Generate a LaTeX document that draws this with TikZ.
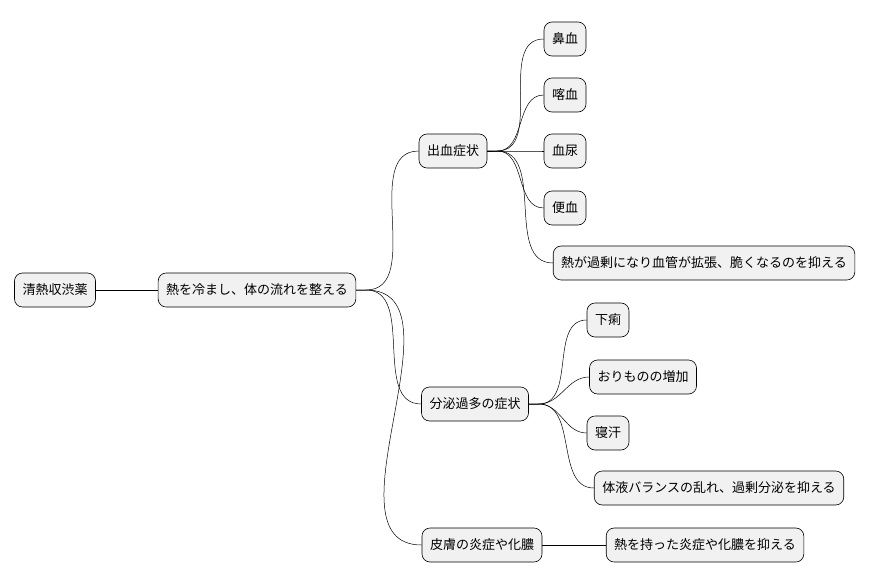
\documentclass[tikz,border=0pt]{standalone}
\usepackage{fontspec}
\setmainfont{Noto Sans CJK JP}
\usetikzlibrary{positioning}
\definecolor{boxfill}{HTML}{F1F1F1}

\tikzset{
    topic/.style={draw, rounded corners=8pt, fill=boxfill, minimum height=34pt,
        inner xsep=8pt, font=\fontsize{13}{15}\selectfont, line width=0.6pt},
    branch/.style={line width=0.5pt}
}

\begin{document}
\begin{tikzpicture}[x=1pt, y=-1pt]
\useasboundingbox (0,0) rectangle (880,583);

\node[topic] (root) at (55,290) {清熱収渋薬};
\node[topic] (heat) at (257,290) {熱を冷まし、体の流れを整える};

\node[topic] (bleed) at (453,151) {出血症状};
\node[topic] (secr) at (475,404) {分泌過多の症状};
\node[topic] (skin) at (482,545) {皮膚の炎症や化膿};

\node[topic] (b1) at (565,39) {鼻血};
\node[topic] (b2) at (565,95) {喀血};
\node[topic] (b3) at (565,151) {血尿};
\node[topic] (b4) at (565,208) {便血};
\node[topic] (b5) at (704,263) {熱が過剰になり血管が拡張、脆くなるのを抑える};

\node[topic] (s1) at (608,320) {下痢};
\node[topic] (s2) at (643,377) {おりものの増加};
\node[topic] (s3) at (608,433) {寝汗};
\node[topic] (s4) at (719,488) {体液バランスの乱れ、過剰分泌を抑える};

\node[topic] (k1) at (705,545) {熱を持った炎症や化膿を抑える};

\draw[branch] (root) -- (heat);
\draw[branch] (skin) -- (k1);

\foreach \p/\c in {heat/bleed, heat/secr, heat/skin,
    bleed/b1, bleed/b2, bleed/b3, bleed/b4, bleed/b5,
    secr/s1, secr/s2, secr/s3, secr/s4}
    \draw[branch] (\p.east) -- ++(10,0) to[out=0, in=180] (\c.west);

\end{tikzpicture}
\end{document}
